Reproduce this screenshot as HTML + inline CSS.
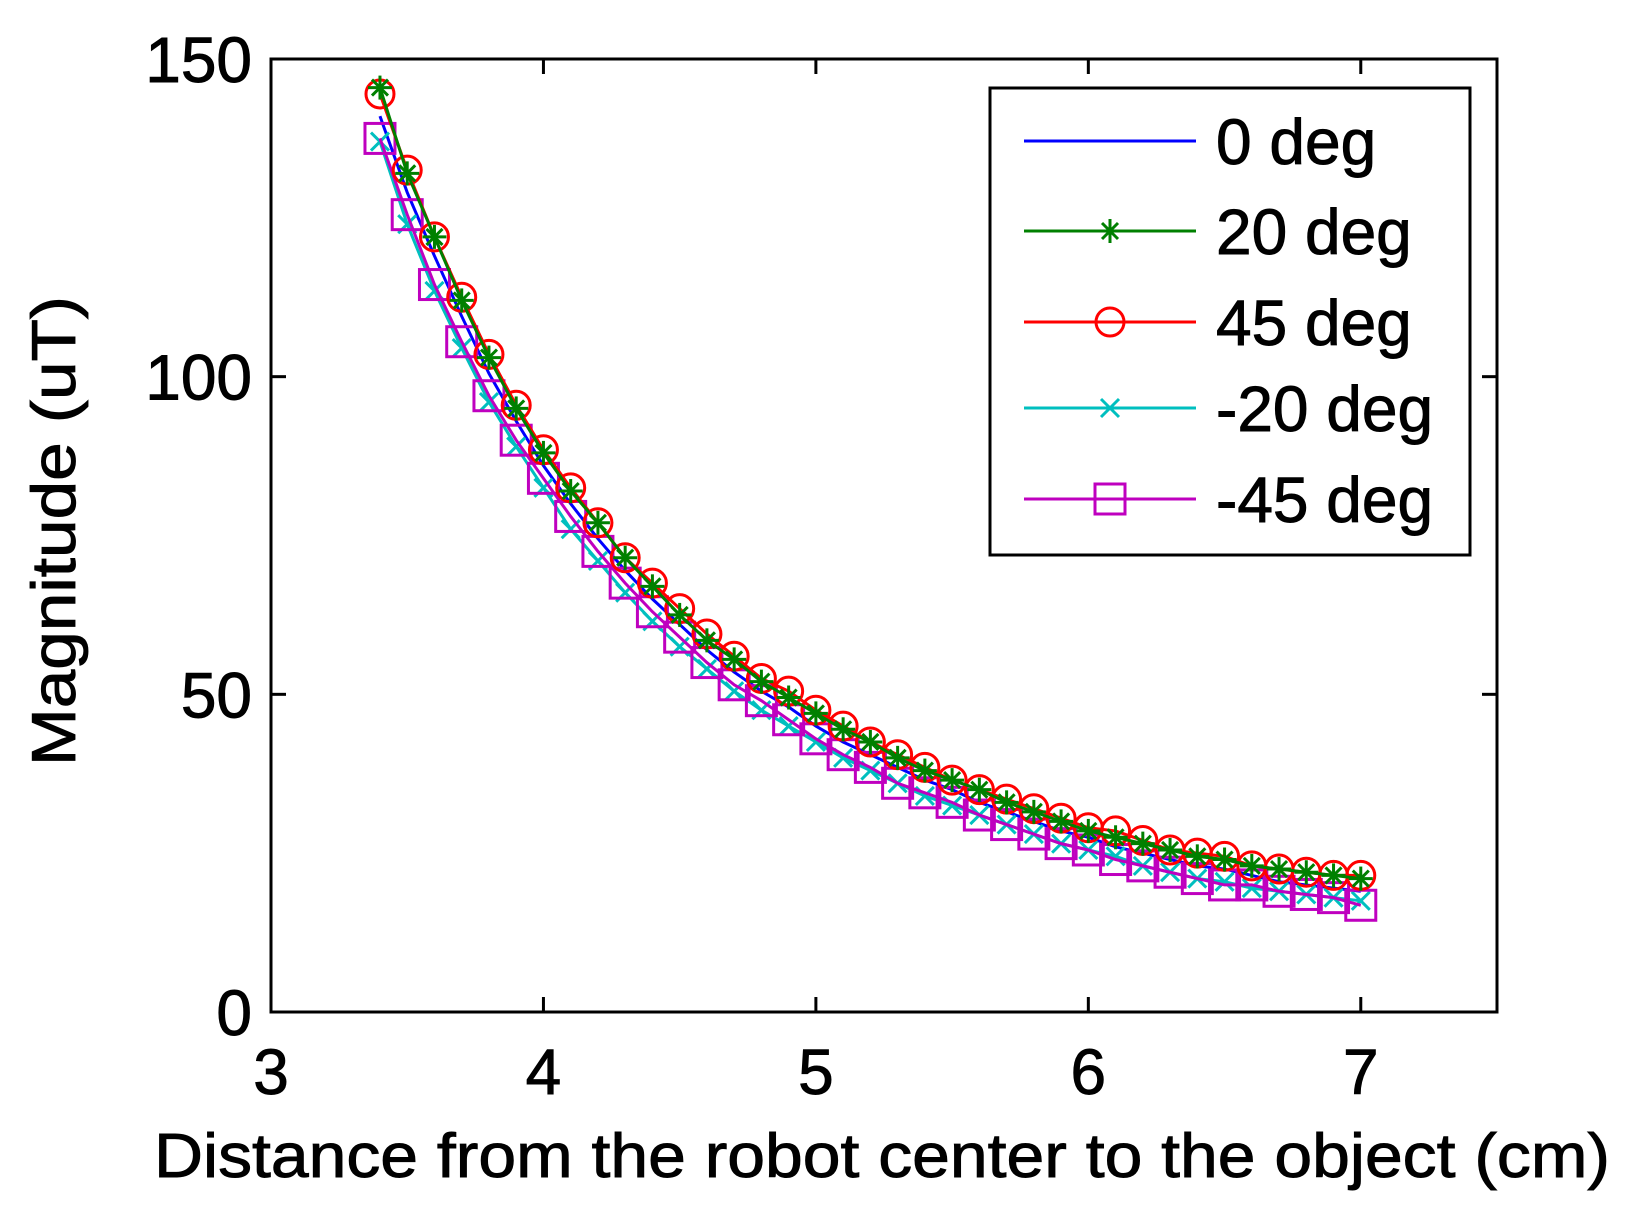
<!DOCTYPE html>
<html><head><meta charset="utf-8"><style>
html,body{margin:0;padding:0;background:#fff;}
svg{display:block;font-family:"Liberation Sans",Arial,sans-serif;}
text{stroke:#000;stroke-width:0.9;}
</style></head><body>
<svg id="chart" width="1626" height="1219" viewBox="0 0 1626 1219" xmlns="http://www.w3.org/2000/svg">
<rect x="0" y="0" width="1626" height="1219" fill="#fff"/>
<g id="plot"></g>
<g id="axes"></g>
<text x="75" y="531" font-size="62" text-anchor="middle" transform="rotate(-90 75 531)" textLength="470" lengthAdjust="spacingAndGlyphs">Magnitude (uT)</text>
<text x="882" y="1177" font-size="62" text-anchor="middle" textLength="1456" lengthAdjust="spacingAndGlyphs">Distance from the robot center to the object (cm)</text>
<g id="legend"></g>
</svg>
<script>
const xs = [3.4,3.5,3.6,3.7,3.8,3.9,4.0,4.1,4.2,4.3,4.4,4.5,4.6,4.7,4.8,4.9,5.0,5.1,5.2,5.3,5.4,5.5,5.6,5.7,5.8,5.9,6.0,6.1,6.2,6.3,6.4,6.5,6.6,6.7,6.8,6.9,7.0];
const deg0   = [141,129,119,109.5,100.5,93,86,80,74.5,69.5,65,61,57,53.5,50.5,48,45,42.5,40.5,38.5,36.5,35,33,31.5,30,28.5,27.5,26,25,24,23,22.5,21.5,20.5,20,19.5,19];
const deg20  = [145.5,132,122,112,103,95,88,82,77,71.5,67,62.5,58.5,55.5,52,49.5,47,44.5,42.5,40,38,36.5,35,33,31.5,30,28.5,27.5,26.5,25.5,24.5,24,23,22.5,22,21.5,21];
const deg45  = [144.5,132.5,122,112.5,103.5,95.5,88.5,82.5,77,71.5,67.5,63.5,59.5,56,52.5,50.5,47.5,45,42.5,40.5,38.5,36.5,35,33.5,32,30.5,29,28.5,27,25.5,25,24.5,23,22.5,22,21.5,21.5];
const degm20 = [137,124,113.5,104.5,96,89,82.5,76,71,66,61.5,57.5,54,50.5,47.5,45,42.5,40,38,36,34,32.5,31,29.5,28,26.5,25.5,24.5,23,22,21,20.5,19.5,19,18.5,18,17.5];
const degm45 = [137.5,125.5,114.5,105.5,97,90,84,78,72.5,67.5,63,59,55,51.5,49,46,43,40.5,38.5,36,34.5,33,31,29.5,28,26.5,25.5,24,23,22,21,20,20,19,18.5,18,16.8];
const xTicks = [3,4,5,6,7];
const yTicks = [0,50,100,150];
const legendLabels = ["0 deg","20 deg","45 deg","-20 deg","-45 deg"];

const NS="http://www.w3.org/2000/svg";
const X0=271,X1=1497,Y0=1012,Y1=59;
const sx=v=>X0+(v-3)/(7.5-3)*(X1-X0);
const sy=v=>Y0-(v-0)/(150-0)*(Y0-Y1);
function mk(tag,attrs,parent){const e=document.createElementNS(NS,tag);for(const k in attrs)e.setAttribute(k,attrs[k]);parent.appendChild(e);return e;}
const plot=document.getElementById('plot'),axes=document.getElementById('axes'),legend=document.getElementById('legend');

function marker(type,color,x,y,parent){
  let g=mk('g',{stroke:color,fill:'none','stroke-width':3},parent);
  
  
  if(type==='star'){
    const r=12;
    mk('line',{x1:x-r,y1:y,x2:x+r,y2:y},g);mk('line',{x1:x,y1:y-r,x2:x,y2:y+r},g);
    mk('line',{x1:x-8,y1:y-8,x2:x+8,y2:y+8},g);mk('line',{x1:x-8,y1:y+8,x2:x+8,y2:y-8},g);
  }else if(type==='circle'){mk('circle',{cx:x,cy:y,r:14},g);}
  else if(type==='x'){mk('line',{x1:x-9,y1:y-9,x2:x+9,y2:y+9},g);mk('line',{x1:x-9,y1:y+9,x2:x+9,y2:y-9},g);}
  else if(type==='square'){mk('rect',{x:x-15,y:y-15,width:30,height:30},g);}
}
const series=[
  {d:deg0,c:'#0000ff',m:null,n:'series-0-deg'},
  {d:degm20,c:'#00bfbf',m:'x',n:'series-minus-20-deg'},
  {d:degm45,c:'#bf00bf',m:'square',n:'series-minus-45-deg'},
  {d:deg45,c:'#ff0000',m:'circle',n:'series-45-deg'},
  {d:deg20,c:'#008000',m:'star',n:'series-20-deg'}
];
series.forEach(s=>{
  const g=mk('g',{},plot);
  
  
  const pl=mk('polyline',{points:xs.map((x,i)=>sx(x)+','+sy(s.d[i])).join(' '),fill:'none',stroke:s.c,'stroke-width':3},g);
  
  
  if(s.m) xs.forEach((x,i)=>marker(s.m,s.c,sx(x),sy(s.d[i]),g));
});
const box=mk('rect',{x:X0,y:Y1,width:X1-X0,height:Y0-Y1,fill:'none',stroke:'#000','stroke-width':3},axes);


xTicks.forEach(t=>{
  const x=sx(t);
  mk('line',{x1:x,y1:Y0,x2:x,y2:Y0-15,stroke:'#000','stroke-width':3},axes);
  mk('line',{x1:x,y1:Y1,x2:x,y2:Y1+15,stroke:'#000','stroke-width':3},axes);
  const tx=mk('text',{x:x,y:Y0+82,'font-size':64,'text-anchor':'middle'},axes);
  tx.textContent=t;
  
  
});
yTicks.forEach(t=>{
  const y=sy(t);
  mk('line',{x1:X0,y1:y,x2:X0+15,y2:y,stroke:'#000','stroke-width':3},axes);
  mk('line',{x1:X1,y1:y,x2:X1-15,y2:y,stroke:'#000','stroke-width':3},axes);
  const tx=mk('text',{x:252,y:y+23,'font-size':64,'text-anchor':'end'},axes);
  tx.textContent=t;
  
  
});
const lb=mk('rect',{x:990,y:88,width:480,height:467,fill:'#fff',stroke:'#000','stroke-width':3},legend);


const lrows=[141,231,322,408,499];
const lstyle=[['#0000ff',null],['#008000','star'],['#ff0000','circle'],['#00bfbf','x'],['#bf00bf','square']];
legendLabels.forEach((lab,i)=>{
  const g=mk('g',{},legend);
  
  
  const y=lrows[i];
  mk('line',{x1:1024,y1:y,x2:1196,y2:y,stroke:lstyle[i][0],'stroke-width':3},g);
  if(lstyle[i][1]) marker(lstyle[i][1],lstyle[i][0],1110,y,g);
  const t=mk('text',{x:1216,y:y+23,'font-size':64},g);
  t.textContent=lab;
});
</script>
</body></html>
